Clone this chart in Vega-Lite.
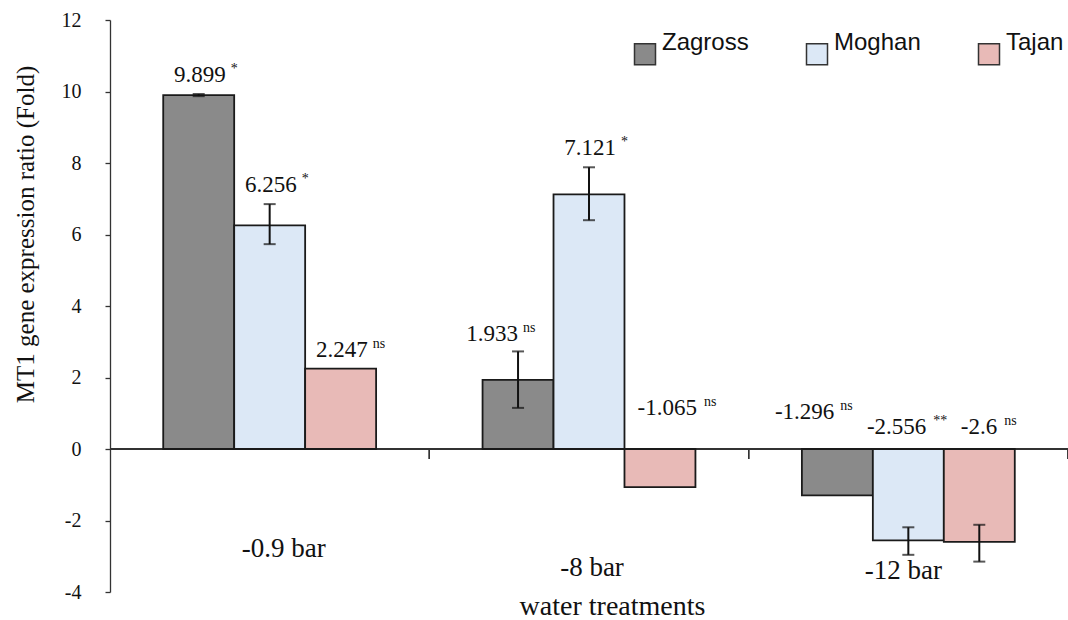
{
  "$schema": "https://vega.github.io/schema/vega-lite/v6.json",
  "width": 958,
  "height": 572,
  "autosize": {"type": "none"},
  "padding": {"left": 110, "top": 20, "right": 0, "bottom": 28},
  "background": "white",
  "config": {"view": {"stroke": null}, "axis": {"grid": false}},
  "data": {
    "values": [
      {"treatment": "-0.9 bar", "cultivar": "Zagross", "value": 9.899, "lo": 9.87, "hi": 9.93, "label": "9.899", "sig": "*"},
      {"treatment": "-0.9 bar", "cultivar": "Moghan", "value": 6.256, "lo": 5.73, "hi": 6.85, "label": "6.256", "sig": "*"},
      {"treatment": "-0.9 bar", "cultivar": "Tajan", "value": 2.247, "lo": 2.247, "hi": 2.247, "label": "2.247", "sig": "ns"},
      {"treatment": "-8 bar", "cultivar": "Zagross", "value": 1.933, "lo": 1.15, "hi": 2.73, "label": "1.933", "sig": "ns"},
      {"treatment": "-8 bar", "cultivar": "Moghan", "value": 7.121, "lo": 6.40, "hi": 7.88, "label": "7.121", "sig": "*"},
      {"treatment": "-8 bar", "cultivar": "Tajan", "value": -1.065, "lo": -1.065, "hi": -1.065, "label": "-1.065", "sig": "ns"},
      {"treatment": "-12 bar", "cultivar": "Zagross", "value": -1.296, "lo": -1.296, "hi": -1.296, "label": "-1.296", "sig": "ns"},
      {"treatment": "-12 bar", "cultivar": "Moghan", "value": -2.556, "lo": -2.96, "hi": -2.19, "label": "-2.556", "sig": "**"},
      {"treatment": "-12 bar", "cultivar": "Tajan", "value": -2.6, "lo": -3.15, "hi": -2.12, "label": "-2.6", "sig": "ns"}
    ]
  },
  "layer": [
    {
      "mark": {"type": "rule", "color": "#333333", "strokeWidth": 1.3},
      "encoding": {"y": {"datum": 0, "type": "quantitative"}}
    },
    {
      "mark": {"type": "rule", "color": "#333333", "strokeWidth": 1.3},
      "encoding": {
        "x": {"field": "treatment", "type": "nominal", "sort": ["-0.9 bar", "-8 bar", "-12 bar"], "bandPosition": 1, "title": "water treatments"},
        "y": {"datum": 0, "type": "quantitative"},
        "y2": {"datum": -0.28}
      }
    },
    {
      "mark": {"type": "bar", "stroke": "#1a1a1a", "strokeWidth": 1.8},
      "encoding": {
        "x": {
          "field": "treatment", "type": "nominal", "sort": ["-0.9 bar", "-8 bar", "-12 bar"],
          "scale": {"paddingInner": 0, "paddingOuter": 0},
          "title": "water treatments",
          "axis": {
            "domain": false, "ticks": false, "tickSize": 0, "labelAngle": 0, "labelAlign": "center",
            "labelFont": "Liberation Serif", "labelFontSize": 27, "labelColor": "#111111",
            "labelBaseline": "middle",
            "labelPadding": {"condition": [{"test": "datum.value == '-0.9 bar'", "value": -44}, {"test": "datum.value == '-8 bar'", "value": -25}], "value": -22},
            "labelOffset": {"condition": [{"test": "datum.value == '-0.9 bar'", "value": 14}, {"test": "datum.value == '-8 bar'", "value": 3}], "value": -5},
            "titleFont": "Liberation Serif", "titleFontSize": 28, "titleFontWeight": "normal", "titleColor": "#111111",
            "titleX": 502, "titleY": 22, "titleBaseline": "alphabetic"
          }
        },
        "xOffset": {"field": "cultivar", "type": "nominal", "sort": ["Zagross", "Moghan", "Tajan"], "scale": {"paddingOuter": 0.75, "paddingInner": 0}},
        "y": {
          "field": "value", "type": "quantitative",
          "scale": {"domain": [-4, 12], "nice": false},
          "title": "MT1 gene expression ratio (Fold)",
          "axis": {
            "values": [-4, -2, 0, 2, 4, 6, 8, 10, 12], "labelExpr": "'' + datum.value",
            "domainColor": "#333333", "domainWidth": 1.3, "tickColor": "#333333", "tickWidth": 1.3, "tickSize": 5,
            "labelPadding": 24, "labelFont": "Liberation Serif", "labelFontSize": 20, "labelColor": "#111111",
            "titleFont": "Liberation Serif", "titleFontSize": 25, "titleFontWeight": "normal", "titleColor": "#111111",
            "titleX": -77, "titleY": 214, "titleBaseline": "alphabetic"
          }
        },
        "color": {
          "field": "cultivar", "type": "nominal",
          "scale": {"domain": ["Zagross", "Moghan", "Tajan"], "range": ["#8a8a8a", "#dce8f6", "#e8bab7"]},
          "legend": {
            "title": null, "orient": "none", "legendX": 523, "legendY": 22,
            "direction": "horizontal", "columns": 3, "gridAlign": "all", "columnPadding": 54,
            "symbolType": "square", "symbolSize": 441, "symbolStrokeColor": "#333333", "symbolStrokeWidth": 1.5,
            "labelFont": "Liberation Sans", "labelFontSize": 24, "labelColor": "#111111", "labelOffset": 5,
            "labelLimit": 200, "padding": 0,
            "encode": {"labels": {"update": {"dy": {"value": -11}}}}
          }
        }
      }
    },
    {
      "transform": [{"filter": "datum.hi > datum.lo"}],
      "mark": {"type": "rule", "color": "#111111", "strokeWidth": 2},
      "encoding": {
        "x": {"field": "treatment", "type": "nominal", "sort": ["-0.9 bar", "-8 bar", "-12 bar"], "title": "water treatments"},
        "xOffset": {"field": "cultivar", "type": "nominal", "sort": ["Zagross", "Moghan", "Tajan"]},
        "y": {"field": "lo", "type": "quantitative", "title": "MT1 gene expression ratio (Fold)"},
        "y2": {"field": "hi"}
      }
    },
    {
      "transform": [{"filter": "datum.hi > datum.lo"}],
      "mark": {"type": "tick", "color": "#111111", "size": 12, "thickness": 2},
      "encoding": {
        "x": {"field": "treatment", "type": "nominal", "sort": ["-0.9 bar", "-8 bar", "-12 bar"], "title": "water treatments"},
        "xOffset": {"field": "cultivar", "type": "nominal", "sort": ["Zagross", "Moghan", "Tajan"]},
        "y": {"field": "lo", "type": "quantitative", "title": "MT1 gene expression ratio (Fold)"}
      }
    },
    {
      "transform": [{"filter": "datum.hi > datum.lo"}],
      "mark": {"type": "tick", "color": "#111111", "size": 12, "thickness": 2},
      "encoding": {
        "x": {"field": "treatment", "type": "nominal", "sort": ["-0.9 bar", "-8 bar", "-12 bar"], "title": "water treatments"},
        "xOffset": {"field": "cultivar", "type": "nominal", "sort": ["Zagross", "Moghan", "Tajan"]},
        "y": {"field": "hi", "type": "quantitative", "title": "MT1 gene expression ratio (Fold)"}
      }
    },
    {
      "transform": [{"filter": "datum.value >= 2"}],
      "mark": {"type": "text", "align": "right", "baseline": "middle", "dx": 27, "dy": -19, "font": "Liberation Serif", "fontSize": 23, "color": "#111111"},
      "encoding": {
        "x": {"field": "treatment", "type": "nominal", "sort": ["-0.9 bar", "-8 bar", "-12 bar"], "title": "water treatments"},
        "xOffset": {"field": "cultivar", "type": "nominal", "sort": ["Zagross", "Moghan", "Tajan"]},
        "y": {"field": "hi", "type": "quantitative", "title": "MT1 gene expression ratio (Fold)"},
        "text": {"field": "label"}
      }
    },
    {
      "transform": [{"filter": "datum.value >= 2"}],
      "mark": {"type": "text", "align": "left", "baseline": "middle", "dx": 32, "dy": -25, "font": "Liberation Serif", "fontSize": 14, "color": "#111111"},
      "encoding": {
        "x": {"field": "treatment", "type": "nominal", "sort": ["-0.9 bar", "-8 bar", "-12 bar"], "title": "water treatments"},
        "xOffset": {"field": "cultivar", "type": "nominal", "sort": ["Zagross", "Moghan", "Tajan"]},
        "y": {"field": "hi", "type": "quantitative", "title": "MT1 gene expression ratio (Fold)"},
        "text": {"field": "sig"}
      }
    },
    {
      "transform": [{"filter": "datum.value > 0 && datum.value < 2"}],
      "mark": {"type": "text", "align": "right", "baseline": "middle", "dx": 0, "dy": -17, "font": "Liberation Serif", "fontSize": 23, "color": "#111111"},
      "encoding": {
        "x": {"field": "treatment", "type": "nominal", "sort": ["-0.9 bar", "-8 bar", "-12 bar"], "title": "water treatments"},
        "xOffset": {"field": "cultivar", "type": "nominal", "sort": ["Zagross", "Moghan", "Tajan"]},
        "y": {"field": "hi", "type": "quantitative", "title": "MT1 gene expression ratio (Fold)"},
        "text": {"field": "label"}
      }
    },
    {
      "transform": [{"filter": "datum.value > 0 && datum.value < 2"}],
      "mark": {"type": "text", "align": "left", "baseline": "middle", "dx": 5, "dy": -23, "font": "Liberation Serif", "fontSize": 14, "color": "#111111"},
      "encoding": {
        "x": {"field": "treatment", "type": "nominal", "sort": ["-0.9 bar", "-8 bar", "-12 bar"], "title": "water treatments"},
        "xOffset": {"field": "cultivar", "type": "nominal", "sort": ["Zagross", "Moghan", "Tajan"]},
        "y": {"field": "hi", "type": "quantitative", "title": "MT1 gene expression ratio (Fold)"},
        "text": {"field": "sig"}
      }
    },
    {
      "transform": [{"filter": "datum.value < 0 && datum.value > -2 && datum.cultivar == 'Tajan'"}],
      "mark": {"type": "text", "align": "right", "baseline": "middle", "dx": 37, "dy": -41, "font": "Liberation Serif", "fontSize": 23, "color": "#111111"},
      "encoding": {
        "x": {"field": "treatment", "type": "nominal", "sort": ["-0.9 bar", "-8 bar", "-12 bar"], "title": "water treatments"},
        "xOffset": {"field": "cultivar", "type": "nominal", "sort": ["Zagross", "Moghan", "Tajan"]},
        "y": {"datum": 0, "type": "quantitative"},
        "text": {"field": "label"}
      }
    },
    {
      "transform": [{"filter": "datum.value < 0 && datum.value > -2 && datum.cultivar == 'Tajan'"}],
      "mark": {"type": "text", "align": "left", "baseline": "middle", "dx": 44, "dy": -47, "font": "Liberation Serif", "fontSize": 14, "color": "#111111"},
      "encoding": {
        "x": {"field": "treatment", "type": "nominal", "sort": ["-0.9 bar", "-8 bar", "-12 bar"], "title": "water treatments"},
        "xOffset": {"field": "cultivar", "type": "nominal", "sort": ["Zagross", "Moghan", "Tajan"]},
        "y": {"datum": 0, "type": "quantitative"},
        "text": {"field": "sig"}
      }
    },
    {
      "transform": [{"filter": "datum.value < 0 && datum.value > -2 && datum.cultivar == 'Zagross'"}],
      "mark": {"type": "text", "align": "right", "baseline": "middle", "dx": -3, "dy": -37, "font": "Liberation Serif", "fontSize": 23, "color": "#111111"},
      "encoding": {
        "x": {"field": "treatment", "type": "nominal", "sort": ["-0.9 bar", "-8 bar", "-12 bar"], "title": "water treatments"},
        "xOffset": {"field": "cultivar", "type": "nominal", "sort": ["Zagross", "Moghan", "Tajan"]},
        "y": {"datum": 0, "type": "quantitative"},
        "text": {"field": "label"}
      }
    },
    {
      "transform": [{"filter": "datum.value < 0 && datum.value > -2 && datum.cultivar == 'Zagross'"}],
      "mark": {"type": "text", "align": "left", "baseline": "middle", "dx": 3, "dy": -43, "font": "Liberation Serif", "fontSize": 14, "color": "#111111"},
      "encoding": {
        "x": {"field": "treatment", "type": "nominal", "sort": ["-0.9 bar", "-8 bar", "-12 bar"], "title": "water treatments"},
        "xOffset": {"field": "cultivar", "type": "nominal", "sort": ["Zagross", "Moghan", "Tajan"]},
        "y": {"datum": 0, "type": "quantitative"},
        "text": {"field": "sig"}
      }
    },
    {
      "transform": [{"filter": "datum.value <= -2"}],
      "mark": {"type": "text", "align": "right", "baseline": "middle", "dx": 18, "dy": -22, "font": "Liberation Serif", "fontSize": 23, "color": "#111111"},
      "encoding": {
        "x": {"field": "treatment", "type": "nominal", "sort": ["-0.9 bar", "-8 bar", "-12 bar"], "title": "water treatments"},
        "xOffset": {"field": "cultivar", "type": "nominal", "sort": ["Zagross", "Moghan", "Tajan"]},
        "y": {"datum": 0, "type": "quantitative"},
        "text": {"field": "label"}
      }
    },
    {
      "transform": [{"filter": "datum.value <= -2"}],
      "mark": {"type": "text", "align": "left", "baseline": "middle", "dx": 25, "dy": -28, "font": "Liberation Serif", "fontSize": 14, "color": "#111111"},
      "encoding": {
        "x": {"field": "treatment", "type": "nominal", "sort": ["-0.9 bar", "-8 bar", "-12 bar"], "title": "water treatments"},
        "xOffset": {"field": "cultivar", "type": "nominal", "sort": ["Zagross", "Moghan", "Tajan"]},
        "y": {"datum": 0, "type": "quantitative"},
        "text": {"field": "sig"}
      }
    }
  ]
}
